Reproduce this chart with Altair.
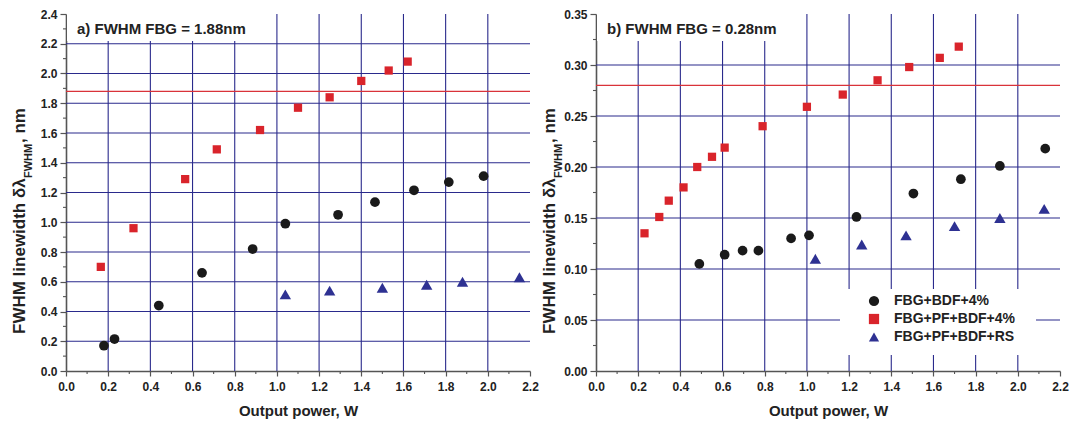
import altair as alt
import pandas as pd

FONT = "Liberation Sans"
series_names = ["FBG+BDF+4%", "FBG+PF+BDF+4%", "FBG+PF+BDF+RS"]
series_colors = ["#1a1a1a", "#d9242b", "#2e3192"]
series_shapes = ["circle", "square", "triangle-up"]
series_sizes = [95, 68, 130]

# ---- panel a) FWHM FBG = 1.88nm
a_bdf_x = [0.18, 0.23, 0.44, 0.645, 0.885, 1.04, 1.29, 1.465, 1.65, 1.815, 1.98]
a_bdf_y = [0.17, 0.215, 0.44, 0.66, 0.82, 0.99, 1.05, 1.135, 1.215, 1.27, 1.31]
a_pf_x = [0.165, 0.32, 0.565, 0.715, 0.92, 1.10, 1.25, 1.40, 1.53, 1.62]
a_pf_y = [0.70, 0.96, 1.29, 1.49, 1.62, 1.77, 1.84, 1.95, 2.02, 2.08]
a_rs_x = [1.04, 1.25, 1.50, 1.71, 1.88, 2.15]
a_rs_y = [0.515, 0.54, 0.56, 0.58, 0.60, 0.63]
a_ref = [1.88]
a_y_ticks = [0.0, 0.2, 0.4, 0.6, 0.8, 1.0, 1.2, 1.4, 1.6, 1.8, 2.0, 2.2, 2.4]
a_grid_y = [0.2, 0.4, 0.6, 0.8, 1.0, 1.2, 1.4, 1.6, 1.8, 2.0, 2.2]
a_minor_y = [0.1, 0.3, 0.5, 0.7, 0.9, 1.1, 1.3, 1.5, 1.7, 1.9, 2.1, 2.3]
a_title = "a) FWHM FBG = 1.88nm"

# ---- panel b) FWHM FBG = 0.28nm
b_bdf_x = [0.49, 0.61, 0.695, 0.77, 0.925, 1.01, 1.235, 1.505, 1.73, 1.915, 2.13]
b_bdf_y = [0.105, 0.114, 0.118, 0.118, 0.130, 0.133, 0.151, 0.174, 0.188, 0.201, 0.218]
b_pf_x = [0.23, 0.30, 0.345, 0.415, 0.48, 0.55, 0.61, 0.79, 1.0, 1.17, 1.335, 1.485, 1.63, 1.72]
b_pf_y = [0.135, 0.151, 0.167, 0.180, 0.200, 0.210, 0.219, 0.240, 0.259, 0.271, 0.285, 0.298, 0.307, 0.318]
b_rs_x = [1.04, 1.26, 1.47, 1.70, 1.915, 2.125]
b_rs_y = [0.11, 0.124, 0.133, 0.142, 0.150, 0.159]
b_ref = [0.28]
b_y_ticks = [0.0, 0.05, 0.10, 0.15, 0.20, 0.25, 0.30, 0.35]
b_grid_y = [0.05, 0.10, 0.15, 0.20, 0.25, 0.30]
b_minor_y = [0.025, 0.075, 0.125, 0.175, 0.225, 0.275, 0.325]
b_title = "b) FWHM FBG = 0.28nm"

# ---- shared x axis
x_ticks = [0.0, 0.2, 0.4, 0.6, 0.8, 1.0, 1.2, 1.4, 1.6, 1.8, 2.0, 2.2]
x_grid = [0.2, 0.4, 0.6, 0.8, 1.0, 1.2, 1.4, 1.6, 1.8, 2.0]
x_minor = [0.1, 0.3, 0.5, 0.7, 0.9, 1.1, 1.3, 1.5, 1.7, 1.9, 2.1]
x_title = "Output power, W"
y_title_main = "FWHM linewidth δλ"
y_title_sub = "FWHM"
y_title_end = ", nm"

W, H = 464, 357
GRID = "#2a2a8c"
AXC = "#555555"


def panel(series_xy, y_ticks, grid_y, minor_y, ref, fmt, title, show_legend, box):
    xs = alt.Scale(domain=[0, 2.2], nice=False, zero=False)
    ys = alt.Scale(domain=[y_ticks[0], y_ticks[-1]], nice=False, zero=False)
    x_axis = alt.Axis(values=x_ticks, format=".1f", title=x_title, grid=False,
                      tickSize=5, tickColor=AXC, tickWidth=1.2,
                      domainColor=AXC, domainWidth=1.6,
                      labelFont=FONT, labelFontSize=12, labelFontWeight="bold",
                      labelColor="#222", labelPadding=5, labelOverlap=False,
                      labelFlush=False,
                      titleFont=FONT, titleFontSize=15, titleFontWeight="bold",
                      titleColor="#222", titlePadding=11)
    y_axis = alt.Axis(values=y_ticks, format=fmt, title=None, grid=False,
                      tickSize=6, tickColor=AXC, tickWidth=1.2,
                      domainColor=AXC, domainWidth=1.6,
                      labelFont=FONT, labelFontSize=12, labelFontWeight="bold",
                      labelColor="#222", labelPadding=3, labelOverlap=False,
                      labelFlush=False)
    X = lambda f: alt.X(f, type="quantitative", scale=xs, axis=x_axis)
    Y = lambda f: alt.Y(f, type="quantitative", scale=ys, axis=y_axis)

    hgrid = alt.Chart(pd.DataFrame({"g": grid_y})).mark_rule(
        color=GRID, strokeWidth=1.1).encode(y=Y("g"))
    vgrid = alt.Chart(pd.DataFrame({"g": x_grid})).mark_rule(
        color=GRID, strokeWidth=1.1).encode(x=X("g"))
    one = pd.DataFrame({"k": [0]})
    title_box = alt.Chart(one).mark_rect(color="white").encode(
        x=alt.value(1), x2=alt.value(box), y=alt.value(0), y2=alt.value(27))
    refline = alt.Chart(pd.DataFrame({"r": ref})).mark_rule(
        color="#d9333a", strokeWidth=1.2).encode(y=Y("r"))
    minor_y_ticks = alt.Chart(pd.DataFrame({"m": minor_y})).mark_rule(
        color=AXC, strokeWidth=1.1).encode(y=Y("m"), x=alt.value(-3), x2=alt.value(0))
    minor_x_ticks = alt.Chart(pd.DataFrame({"m": x_minor})).mark_rule(
        color=AXC, strokeWidth=1.1).encode(x=X("m"), y=alt.value(H), y2=alt.value(H + 3))

    if show_legend:
        leg = alt.Legend(orient="none", legendX=271, legendY=280, title=None,
                         labelFont=FONT, labelFontSize=14, labelFontWeight="bold",
                         labelColor="#222", symbolSize=105, rowPadding=4,
                         labelOffset=13, padding=0, symbolStrokeWidth=0)
    else:
        leg = None
    color_scale = alt.Scale(domain=series_names, range=series_colors)
    shape_scale = alt.Scale(domain=series_names, range=series_shapes)
    point_layers = []
    for name, size, (sx, sy) in zip(series_names, series_sizes, series_xy):
        df = pd.DataFrame({"x": sx, "y": sy, "series": name})
        point_layers.append(
            alt.Chart(df).mark_point(filled=True, opacity=1, size=size).encode(
                x=X("x"), y=Y("y"),
                color=alt.Color("series:N", scale=color_scale, legend=leg),
                shape=alt.Shape("series:N", scale=shape_scale, legend=leg),
            )
        )
    title_txt = alt.Chart(one).mark_text(
        text=title, font=FONT, fontSize=15, fontWeight="bold", color="#222",
        align="left", baseline="alphabetic").encode(x=alt.value(11), y=alt.value(20))
    yt1 = alt.Chart(one).mark_text(
        text=y_title_main, font=FONT, fontSize=17, fontWeight="bold", color="#222",
        angle=270, align="left", baseline="alphabetic").encode(x=alt.value(-41), y=alt.value(320))
    yt2 = alt.Chart(one).mark_text(
        text=y_title_sub, font=FONT, fontSize=11, fontWeight="bold", color="#222",
        angle=270, align="left", baseline="alphabetic").encode(x=alt.value(-34), y=alt.value(164))
    yt3 = alt.Chart(one).mark_text(
        text=y_title_end, font=FONT, fontSize=17, fontWeight="bold", color="#222",
        angle=270, align="left", baseline="alphabetic").encode(x=alt.value(-41), y=alt.value(129))

    layers = [hgrid, vgrid, title_box]
    if show_legend:
        legend_box = alt.Chart(one).mark_rect(color="white").encode(
            x=alt.value(244), x2=alt.value(440), y=alt.value(275), y2=alt.value(341))
        layers.append(legend_box)
    layers += [refline] + point_layers + [title_txt, minor_y_ticks, minor_x_ticks, yt1, yt2, yt3]
    return alt.layer(*layers).properties(width=W, height=H)


left = panel([(a_bdf_x, a_bdf_y), (a_pf_x, a_pf_y), (a_rs_x, a_rs_y)],
             a_y_ticks, a_grid_y, a_minor_y, a_ref, ".1f", a_title, False, 200)
right = panel([(b_bdf_x, b_bdf_y), (b_pf_x, b_pf_y), (b_rs_x, b_rs_y)],
              b_y_ticks, b_grid_y, b_minor_y, b_ref, ".2f", b_title, True, 205)

chart = alt.hconcat(left, right, spacing=66, bounds="flush").resolve_scale(
    color="independent", shape="independent"
).configure_view(stroke=None).properties(
    padding={"left": 3, "top": 0, "right": 5, "bottom": 5}, background="white")

chart.save("out.html", embed_options={"renderer": "svg", "actions": False})
